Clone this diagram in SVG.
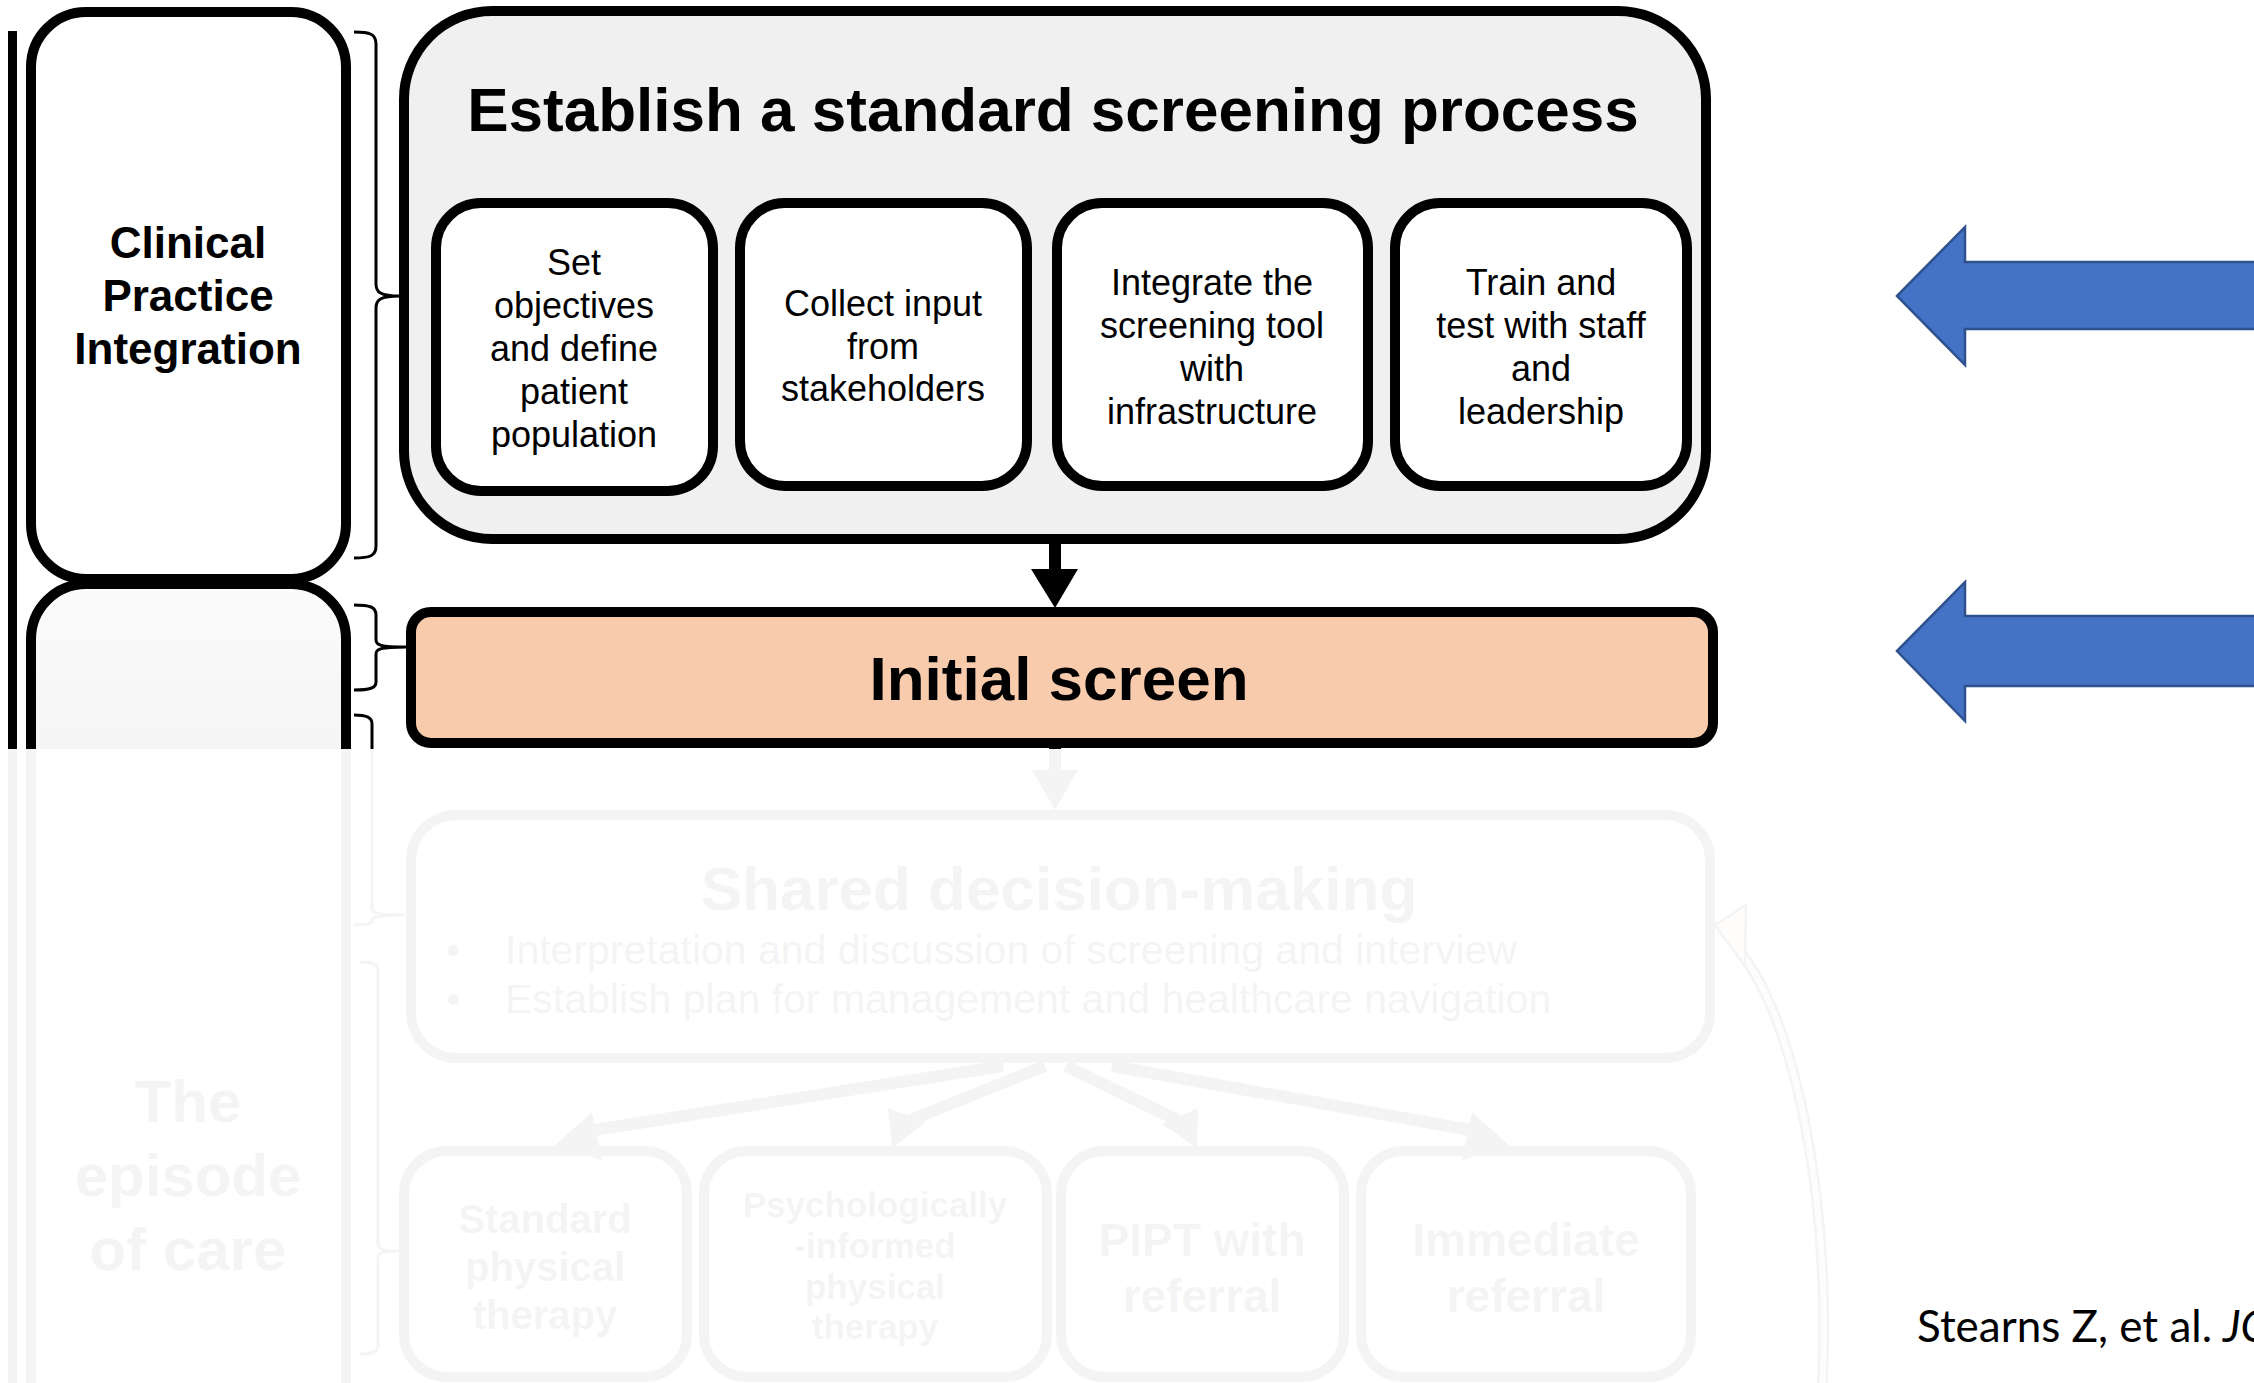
<svg xmlns="http://www.w3.org/2000/svg" width="2254" height="1383" viewBox="0 0 2254 1383">
  <defs>
    <style>
      .box { stroke: #000; stroke-width: 10; }
      .white { fill: #fff; }
      .t { font-family: "Liberation Sans", Arial, sans-serif; fill: #000; text-anchor: middle; }
      .b { font-weight: bold; }
      .sub { font-size: 36px; }
      .brace { fill: none; stroke: #000; stroke-width: 3; stroke-linejoin: round; }
      .blue { fill: #4472c4; stroke: #2f528f; stroke-width: 2.5; }
    </style>
    <linearGradient id="episodeFill" gradientUnits="userSpaceOnUse" x1="0" y1="584" x2="0" y2="1000">
      <stop offset="0" stop-color="#fbfbfb"/>
      <stop offset="1" stop-color="#ececec"/>
    </linearGradient>
  </defs>

  <rect width="2254" height="1383" fill="#fff"/>

  <!-- left timeline bar -->
  <rect id="timeline-bar" x="8" y="31" width="9" height="1360" fill="#000"/>

  <!-- phase labels -->
  <g id="episode-of-care">
    <rect class="box" x="31" y="584" width="315" height="900" rx="55" fill="url(#episodeFill)"/>
    <text class="t b" font-size="60" x="188" y="1122">The</text>
    <text class="t b" font-size="60" x="188" y="1196">episode</text>
    <text class="t b" font-size="60" x="188" y="1270">of care</text>
  </g>
  <g id="clinical-practice-integration">
    <rect class="box white" x="31" y="12" width="315" height="567" rx="55"/>
    <text class="t b" font-size="44" x="188" y="258">Clinical</text>
    <text class="t b" font-size="44" x="188" y="311">Practice</text>
    <text class="t b" font-size="44" x="188" y="364">Integration</text>
  </g>

  <!-- braces linking phases to steps -->
  <g id="braces">
    <path class="brace" d="M354,32 C370,32 376,34 376,44 V284 C376,292 380,296 400,296 C380,296 376,300 376,308 V546 C376,556 370,558 354,558"/>
    <path class="brace" d="M354,605 C370,605 376,607 376,615 V640 C376,645 380,647 406,647 C380,647 376,649 376,654 V682 C376,688 370,690 354,690"/>
    <path class="brace" d="M354,715 C366,715 372,717 372,724 V908 C372,913 378,915 404,915 C378,915 372,917 372,921 C372,924 366,925 354,925"/>
    <path class="brace" d="M360,962 C372,962 378,964 378,971 V1244 C378,1249 382,1251 400,1251 C382,1251 378,1253 378,1258 V1346 C378,1352 372,1354 360,1354"/>
  </g>

  <!-- screening process -->
  <g id="standard-screening-process">
    <rect class="box" x="404" y="11" width="1302" height="528" rx="88" fill="#f0f0f0"/>
    <text class="t b" font-size="62" x="1053" y="131">Establish a standard screening process</text>
  </g>
  <g id="set-objectives">
    <rect class="box white" x="436" y="203" width="277" height="288" rx="45"/>
    <text class="t sub" x="574" y="275">Set</text>
    <text class="t sub" x="574" y="318">objectives</text>
    <text class="t sub" x="574" y="361">and define</text>
    <text class="t sub" x="574" y="404">patient</text>
    <text class="t sub" x="574" y="447">population</text>
  </g>
  <g id="collect-input">
    <rect class="box white" x="740" y="203" width="287" height="283" rx="45"/>
    <text class="t sub" x="883" y="316">Collect input</text>
    <text class="t sub" x="883" y="359">from</text>
    <text class="t sub" x="883" y="401">stakeholders</text>
  </g>
  <g id="integrate-tool">
    <rect class="box white" x="1057" y="203" width="311" height="283" rx="45"/>
    <text class="t sub" x="1212" y="295">Integrate the</text>
    <text class="t sub" x="1212" y="338">screening tool</text>
    <text class="t sub" x="1212" y="381">with</text>
    <text class="t sub" x="1212" y="424">infrastructure</text>
  </g>
  <g id="train-and-test">
    <rect class="box white" x="1395" y="203" width="292" height="283" rx="45"/>
    <text class="t sub" x="1541" y="295">Train and</text>
    <text class="t sub" x="1541" y="338">test with staff</text>
    <text class="t sub" x="1541" y="381">and</text>
    <text class="t sub" x="1541" y="424">leadership</text>
  </g>

  <g id="initial-screen">
    <rect class="box" x="411" y="612" width="1302" height="131" rx="20" fill="#f7cbac"/>
    <text class="t b" font-size="62" x="1059" y="700">Initial screen</text>
  </g>

  <g id="shared-decision-making">
    <rect class="box" x="411" y="815" width="1299" height="243" rx="45" fill="#f2f2f2"/>
    <text class="t b" font-size="62" x="1059" y="910">Shared decision-making</text>
    <g font-family="Liberation Sans, Arial, sans-serif" font-size="41" fill="#000">
      <text x="446" y="964">•</text>
      <text x="505" y="964">Interpretation and discussion of screening and interview</text>
      <text x="446" y="1013">•</text>
      <text x="505" y="1013">Establish plan for management and healthcare navigation</text>
    </g>
  </g>

  <g id="standard-pt">
    <rect class="box white" x="404" y="1151" width="283" height="226" rx="43"/>
    <text class="t b" font-size="40" x="545" y="1233">Standard</text>
    <text class="t b" font-size="40" x="545" y="1281">physical</text>
    <text class="t b" font-size="40" x="545" y="1329">therapy</text>
  </g>
  <g id="pipt">
    <rect class="box white" x="704" y="1151" width="343" height="226" rx="43"/>
    <text class="t b" font-size="35" x="875" y="1217">Psychologically</text>
    <text class="t b" font-size="35" x="875" y="1258">-informed</text>
    <text class="t b" font-size="35" x="875" y="1299">physical</text>
    <text class="t b" font-size="35" x="875" y="1339">therapy</text>
  </g>
  <g id="pipt-with-referral">
    <rect class="box white" x="1061" y="1151" width="283" height="226" rx="43"/>
    <text class="t b" font-size="46" x="1202" y="1256">PIPT with</text>
    <text class="t b" font-size="46" x="1202" y="1312">referral</text>
  </g>
  <g id="immediate-referral">
    <rect class="box white" x="1361" y="1151" width="330" height="226" rx="43"/>
    <text class="t b" font-size="46" x="1526" y="1256">Immediate</text>
    <text class="t b" font-size="46" x="1526" y="1312">referral</text>
  </g>

  <!-- connectors -->
  <g id="connectors" fill="#000">
    <rect x="1049" y="542" width="12" height="30"/>
    <polygon points="1031,569 1078,569 1055,608"/>
    <rect x="1049" y="747" width="12" height="26"/>
    <polygon points="1032,770 1078,770 1055,810"/>
    <g stroke="#000" stroke-width="12" stroke-linecap="butt">
      <line x1="1003" y1="1066" x2="588" y2="1131"/>
      <line x1="1045" y1="1066" x2="906" y2="1122"/>
      <line x1="1066" y1="1066" x2="1181" y2="1122"/>
      <line x1="1112" y1="1066" x2="1476" y2="1131"/>
    </g>
    <polygon points="554,1146 592,1112 602,1160"/>
    <polygon points="892,1148 888,1108 926,1122"/>
    <polygon points="1197,1148 1162,1124 1198,1108"/>
    <polygon points="1510,1146 1462,1160 1472,1112"/>
    <!-- return loop to shared decision-making -->
    <path d="M1822,1392 C1832,1200 1795,1020 1740,952" fill="none" stroke="#000" stroke-width="11"/>
    <path d="M1822,1392 C1832,1200 1795,1020 1740,952" fill="none" stroke="#f7cbac" stroke-width="6"/>
    <polygon points="1715,925 1746,905 1745,966" fill="#f7cbac" stroke="#000" stroke-width="2.5"/>
  </g>

  <!-- washed-out lower part of the figure -->
  <rect id="fade" x="0" y="749" width="2254" height="634" fill="#fff" opacity="0.955"/>

  <!-- emphasis arrows -->
  <g id="pointer-process">
    <polygon class="blue" points="1897,296 1965,227 1965,262 2262,262 2262,329 1965,329 1965,365"/>
  </g>
  <g id="pointer-initial-screen">
    <polygon class="blue" points="1897,651 1965,582 1965,616 2262,616 2262,686 1965,686 1965,721"/>
  </g>

  <text id="citation" font-family="Lato, 'Liberation Sans', sans-serif" font-size="44" fill="#000" x="1917" y="1342">Stearns Z, et al. <tspan x="2223" font-style="italic">JO</tspan></text>
</svg>
